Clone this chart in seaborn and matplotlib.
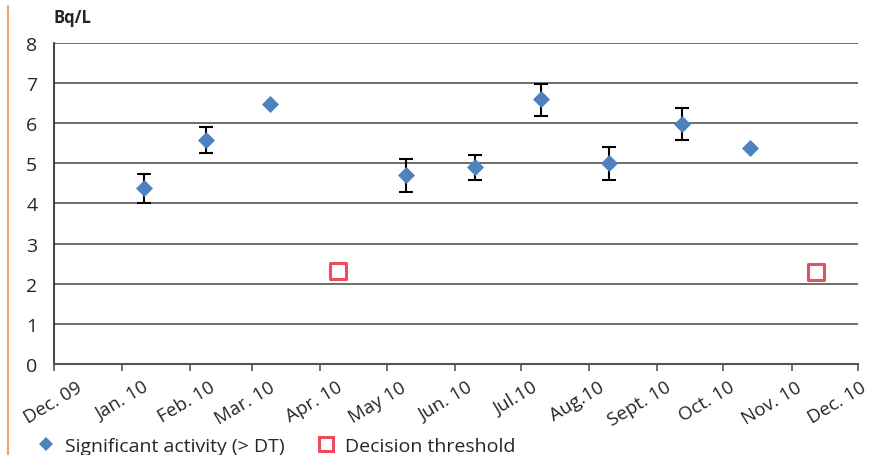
import pandas as pd
import numpy as np
import seaborn as sns
import matplotlib.pyplot as plt
import matplotlib.transforms as mtransforms
from matplotlib.lines import Line2D

# measured activity (> decision threshold)
sig_dates = ["2010-01-11", "2010-02-08", "2010-03-09", "2010-05-10", "2010-06-10",
             "2010-07-10", "2010-08-10", "2010-09-12", "2010-10-13"]
sig_values = [4.38, 5.58, 6.49, 4.71, 4.91, 6.60, 5.00, 5.99, 5.39]
sig_low = [4.02, 5.26, 6.49, 4.28, 4.58, 6.18, 4.58, 5.58, 5.39]
sig_high = [4.73, 5.91, 6.49, 5.11, 5.21, 6.98, 5.40, 6.38, 5.39]

# decision threshold values
dt_dates = ["2010-04-09", "2010-11-12"]
dt_values = [2.31, 2.28]

tick_labels = ["Dec. 09", "Jan. 10", "Feb. 10", "Mar. 10", "Apr. 10", "May 10", "Jun. 10",
               "Jul.10", "Aug.10", "Sept. 10", "Oct. 10", "Nov. 10", "Dec. 10"]

sig = pd.DataFrame({"date": pd.to_datetime(sig_dates), "value": sig_values,
                    "low": sig_low, "high": sig_high})
dt = pd.DataFrame({"date": pd.to_datetime(dt_dates), "value": dt_values})

sns.set_style("white")
plt.rcParams['font.family'] = ['Open Sans', 'DejaVu Sans']

fig = plt.figure(figsize=(8.7, 4.56), dpi=100)
ax = fig.add_axes([0.062, 0.2, 0.924, 0.7035])

# error bars
has_err = sig["high"] > sig["low"]
e = sig[has_err]
ax.errorbar(e["date"], e["value"], yerr=[e["value"] - e["low"], e["high"] - e["value"]],
            fmt='none', ecolor='black', elinewidth=1.5, capsize=5, capthick=1.5, zorder=3)

sns.scatterplot(data=sig, x="date", y="value", marker='D', s=75, color='#4F81BD',
                edgecolor='#4F81BD', linewidth=0, ax=ax, zorder=4)
sns.scatterplot(data=dt, x="date", y="value", marker='s', s=130, facecolor='white',
                edgecolor='#EE4B5E', linewidth=2.2, ax=ax, zorder=4)

ax.set_xlim(pd.Timestamp("2009-12-01"), pd.Timestamp("2010-12-01"))
ax.set_ylim(0, 8)
ax.set_yticks(range(0, 9))
ax.yaxis.grid(True, color='#555555', linewidth=1.2)
ax.set_axisbelow(True)
ax.set_xlabel("")
ax.set_ylabel("")

ticks = pd.date_range("2009-12-01", "2010-12-01", freq="MS")
ax.set_xticks(ticks)
ax.set_xticklabels(tick_labels, rotation=31, ha='right', rotation_mode='anchor', fontsize=13.5)
ax.tick_params(axis='x', direction='out', length=5, width=1.2, color='#555555', bottom=True, pad=5)
ax.tick_params(axis='y', length=0, labelsize=14, pad=12)

# shift the rotated labels to the right, more on the left side, like the original
shifts = np.linspace(0.22, 0.02, len(tick_labels))
for lab, dx in zip(ax.get_xticklabels(), shifts):
    lab.set_transform(lab.get_transform() + mtransforms.ScaledTranslation(dx, 0, fig.dpi_scale_trans))

for s in ["top", "right"]:
    ax.spines[s].set_visible(False)
ax.spines["left"].set_color('#222222')
ax.spines["left"].set_linewidth(1.2)
ax.spines["bottom"].set_color('#555555')
ax.spines["bottom"].set_linewidth(1.5)

fig.text(0.062, 0.94, "Bq/L", fontsize=12, fontweight='bold', ha='left', va='bottom')

# orange margin line
fig.add_artist(Line2D([0.0095, 0.0095], [0.0, 0.985], color='#F2A46A', linewidth=1.5))

# legend
handles = [
    Line2D([], [], marker='D', linestyle='none', markersize=7, color='#4F81BD', markeredgewidth=0),
    Line2D([], [], marker='s', linestyle='none', markersize=10, markerfacecolor='white',
           markeredgecolor='#EE4B5E', markeredgewidth=2.2),
]
fig.legend(handles, ["Significant activity (> DT)", "Decision threshold"], loc='center left',
           bbox_to_anchor=(0.019, 0.02), ncol=2, frameon=False, fontsize=14,
           handletextpad=0.4, columnspacing=1.5, handlelength=1.2)

fig.savefig("out.png", dpi=100)
